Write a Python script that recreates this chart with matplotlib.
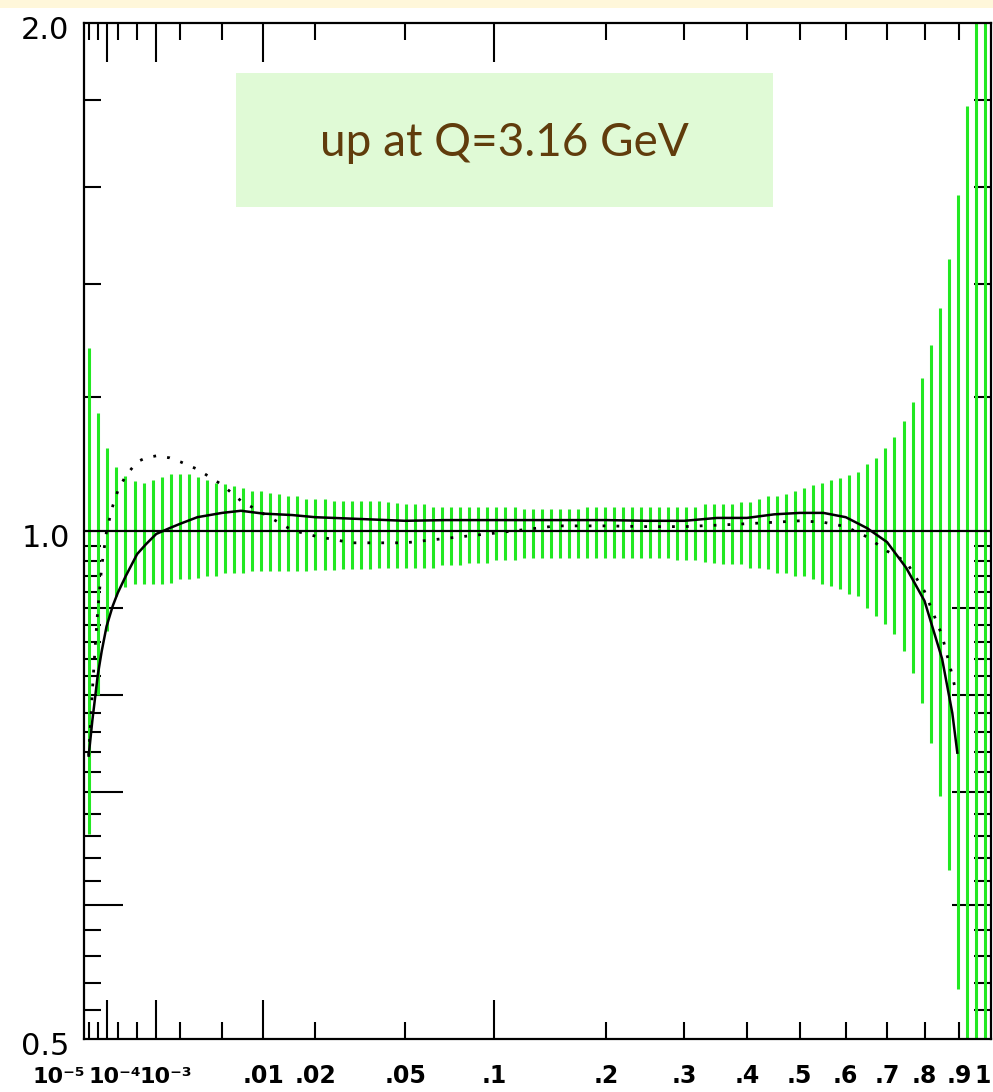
import numpy as np
import matplotlib
matplotlib.use("Agg")
import matplotlib.pyplot as plt
from matplotlib.patches import Rectangle
from matplotlib.ticker import FixedLocator, FixedFormatter, NullFormatter
from matplotlib.transforms import ScaledTranslation

# ---------------------------------------------------------------- data
# x nodes of the uncertainty bars: uniform in x^(1/3) between ~2e-5 and ~0.98
bar_x = np.linspace(0.0278, 0.9935, 100) ** 3

# upper / lower edge of the PDF uncertainty (ratio to the central fit)
band_hi = [1.284, 1.175, 1.120, 1.091, 1.078, 1.071, 1.068, 1.072, 1.076, 1.081,
           1.081, 1.081, 1.076, 1.072, 1.068, 1.066, 1.063, 1.060, 1.056, 1.056,
           1.053, 1.052, 1.049, 1.049, 1.045, 1.045, 1.045, 1.042, 1.042, 1.042,
           1.042, 1.042, 1.042, 1.040, 1.039, 1.038, 1.038, 1.038, 1.033, 1.033,
           1.033, 1.033, 1.033, 1.033, 1.033, 1.033, 1.033, 1.033, 1.030, 1.030,
           1.030, 1.030, 1.030, 1.030, 1.030, 1.033, 1.033, 1.033, 1.033, 1.033,
           1.033, 1.033, 1.033, 1.033, 1.033, 1.033, 1.033, 1.033, 1.038, 1.038,
           1.038, 1.038, 1.040, 1.040, 1.045, 1.049, 1.049, 1.052, 1.056, 1.060,
           1.065, 1.068, 1.072, 1.075, 1.079, 1.084, 1.096, 1.105, 1.120, 1.137,
           1.162, 1.192, 1.232, 1.289, 1.356, 1.449, 1.582, 1.786, 2.150, 2.500]
band_lo = [0.661, 0.800, 0.872, 0.915, 0.926, 0.930, 0.930, 0.930, 0.930, 0.932,
           0.937, 0.937, 0.938, 0.940, 0.940, 0.944, 0.944, 0.944, 0.947, 0.947,
           0.947, 0.947, 0.947, 0.947, 0.947, 0.948, 0.948, 0.948, 0.950, 0.950,
           0.950, 0.950, 0.951, 0.951, 0.951, 0.951, 0.951, 0.951, 0.951, 0.955,
           0.955, 0.955, 0.957, 0.957, 0.957, 0.961, 0.961, 0.961, 0.964, 0.964,
           0.964, 0.964, 0.964, 0.964, 0.964, 0.964, 0.964, 0.964, 0.964, 0.964,
           0.964, 0.964, 0.964, 0.964, 0.964, 0.961, 0.961, 0.961, 0.959, 0.957,
           0.956, 0.956, 0.956, 0.951, 0.951, 0.950, 0.944, 0.944, 0.940, 0.940,
           0.937, 0.930, 0.928, 0.924, 0.918, 0.915, 0.900, 0.890, 0.881, 0.869,
           0.849, 0.824, 0.791, 0.749, 0.697, 0.630, 0.535, 0.460, 0.420, 0.380]

# alternative fit (solid curve), ratio to the central fit
solid_x = [2e-5, 3e-5, 4e-5, 5e-5, 7e-5, 1e-4, 1.5e-4, 2e-4, 3e-4, 5e-4,
           7e-4, 1e-3, 1.5e-3, 2e-3, 3e-3, 5e-3, 7e-3, 0.01, 0.015, 0.02,
           0.03, 0.05, 0.07, 0.1, 0.15, 0.2, 0.25, 0.3, 0.35, 0.4,
           0.45, 0.5, 0.55, 0.6, 0.65, 0.7, 0.75, 0.8, 0.85, 0.88, 0.895]
solid_ratio = [0.736, 0.772, 0.798, 0.821, 0.849, 0.878, 0.903, 0.919, 0.940, 0.969,
               0.982, 0.996, 1.004, 1.010, 1.019, 1.025, 1.028, 1.024, 1.022, 1.019,
               1.017, 1.014, 1.015, 1.015, 1.015, 1.015, 1.014, 1.014, 1.018, 1.018,
               1.023, 1.025, 1.025, 1.019, 1.004, 0.985, 0.951, 0.909, 0.840, 0.780, 0.739]

# second alternative fit (dotted curve)
dotted_x = [2e-5, 3e-5, 4e-5, 5e-5, 7e-5, 1e-4, 1.5e-4, 2e-4, 3e-4, 5e-4,
            7e-4, 1e-3, 1.5e-3, 2e-3, 3e-3, 5e-3, 7e-3, 0.01, 0.015, 0.02,
            0.03, 0.05, 0.07, 0.1, 0.15, 0.2, 0.25, 0.3, 0.35, 0.4,
            0.45, 0.5, 0.55, 0.6, 0.65, 0.7, 0.75, 0.8, 0.85, 0.88, 0.89]
dotted_ratio = [0.736, 0.804, 0.855, 0.897, 0.953, 1.000, 1.035, 1.056, 1.078, 1.099,
                1.105, 1.108, 1.105, 1.099, 1.088, 1.065, 1.042, 1.024, 1.001, 0.993,
                0.984, 0.984, 0.990, 0.997, 1.007, 1.007, 1.006, 1.006, 1.008, 1.010,
                1.012, 1.014, 1.012, 1.006, 0.992, 0.973, 0.959, 0.921, 0.867, 0.821, 0.804]

# axis ticks and labels
x_major = [1e-5, 1e-4, 1e-3, 0.01, 0.02, 0.05, 0.1, 0.2, 0.3, 0.4, 0.5, 0.6, 0.7, 0.8, 0.9, 1.0]
x_labels = ['10\u207b\u2075', '10\u207b\u2074', '10\u207b\u00b3', '.01', '.02', '.05', '.1',
            '.2', '.3', '.4', '.5', '.6', '.7', '.8', '.9', '1']
x_long = [1e-4, 1e-3, 0.01, 0.1]
x_minor = [2e-5, 5e-5, 2e-4, 5e-4, 2e-3, 5e-3]
y_major = [0.5, 1.0, 2.0]
y_labels = ['0.5', '1.0', '2.0']
y_minor = [0.52, 0.54, 0.56, 0.58, 0.60, 0.62, 0.64, 0.66, 0.68, 0.70,
           0.72, 0.74, 0.76, 0.78, 0.80, 0.82, 0.84, 0.86, 0.88, 0.90,
           0.92, 0.94, 0.96, 0.98, 1.2, 1.4, 1.6, 1.8]
y_long = [0.6, 0.7, 0.8, 0.9]

title_text = 'up at Q=3.16 GeV'

# ---------------------------------------------------------------- figure
W, H = 993, 1092
fig = plt.figure(figsize=(W / 100, H / 100), dpi=100)
fig.patch.set_facecolor('white')
fig.add_artist(Rectangle((0, 1 - 8 / H), 1, 8 / H, transform=fig.transFigure,
                         facecolor='#FFF7DA', edgecolor='none', zorder=0))

ax = fig.add_axes([83.5 / W, 53 / H, 907.5 / W, 1016 / H])
ax.set_xscale('function', functions=(np.cbrt, lambda u: u ** 3))
ax.set_yscale('log')
ax.set_xlim(1e-5, 1.0)
ax.set_ylim(0.5, 2.0)

green = '#22E822'
ax.vlines(bar_x, band_lo, band_hi, colors=green, linewidth=2.2, zorder=2)
ax.axhline(1.0, color='black', linewidth=1.6, zorder=3)
ax.plot(solid_x, solid_ratio, color='black', linewidth=1.8, zorder=4)
ax.plot(dotted_x, dotted_ratio, color='black', linewidth=2.0,
        linestyle=(0, (1, 4)), zorder=4)

for sp in ax.spines.values():
    sp.set_linewidth(1.6)
    sp.set_color('black')

# ticks
ax.xaxis.set_major_locator(FixedLocator(x_major))
ax.xaxis.set_major_formatter(FixedFormatter(x_labels))
ax.xaxis.set_minor_locator(FixedLocator(x_minor))
ax.xaxis.set_minor_formatter(NullFormatter())
ax.yaxis.set_major_locator(FixedLocator(y_major))
ax.yaxis.set_major_formatter(FixedFormatter(y_labels))
ax.yaxis.set_minor_locator(FixedLocator(y_minor))
ax.yaxis.set_minor_formatter(NullFormatter())

ax.tick_params(axis='both', which='both', direction='in', top=True, right=True,
               width=1.5, color='black', labelcolor='black')
ax.tick_params(axis='x', which='major', labelsize=17, pad=32)
ax.tick_params(axis='y', which='major', labelsize=22, pad=10)
ax.tick_params(which='minor', length=12)
ax.tick_params(which='major', length=28)

LONG, SHORT = 28, 12
for tick, loc in zip(ax.xaxis.get_major_ticks(len(x_major)), x_major):
    if loc in x_long:
        L = LONG
    elif loc in (1e-5, 1.0):
        L = 0
    else:
        L = SHORT
    tick.tick1line.set_markersize(L)
    tick.tick2line.set_markersize(L)
for tick in ax.yaxis.get_major_ticks(len(y_major)):
    tick.tick1line.set_markersize(0)
    tick.tick2line.set_markersize(0)
for tick, loc in zip(ax.yaxis.get_minor_ticks(len(y_minor)), y_minor):
    L = LONG if loc in y_long else SHORT
    tick.tick1line.set_markersize(L)
    tick.tick2line.set_markersize(L)

# tick label placement (shifts in pixels)
xlabels = ax.get_xticklabels()
for lab in xlabels:
    lab.set_verticalalignment('baseline')
    lab.set_fontweight('bold')
shifts = {0: ('right', 2), 1: ('left', -18), 2: ('left', -17)}
for i, (ha, dx) in shifts.items():
    xlabels[i].set_fontsize(16)
    xlabels[i].set_horizontalalignment(ha)
    xlabels[i].set_transform(xlabels[i].get_transform()
                             + ScaledTranslation(dx / 100, 0, fig.dpi_scale_trans))
xlabels[-1].set_horizontalalignment('right')
for lab in ax.get_yticklabels():
    lab.set_transform(lab.get_transform()
                      + ScaledTranslation(0, -3 / 72, fig.dpi_scale_trans))

# caption box
fig.add_artist(Rectangle((236 / W, 1 - 207 / H), (773 - 236) / W, (207 - 73) / H,
                         transform=fig.transFigure, facecolor='#E0FAD6',
                         edgecolor='none', zorder=5))
fig.text(504 / W, 1 - 143 / H, title_text, ha='center', va='center',
         fontsize=33, family='Lato', color='#603C0C', zorder=6)

fig.savefig('out.png', dpi=100)
